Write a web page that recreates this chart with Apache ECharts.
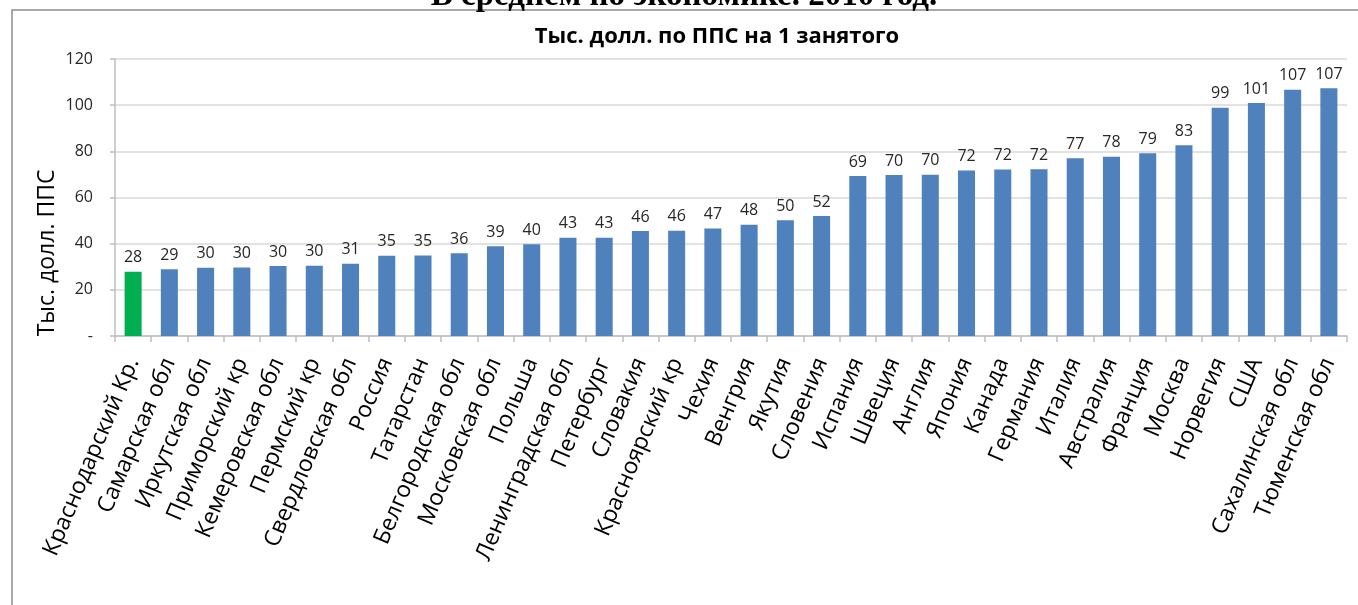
<!DOCTYPE html>
<html>
<head>
<meta charset="utf-8">
<script src="https://cdn.jsdelivr.net/npm/echarts@6/dist/echarts.min.js"></script>
<style>
html,body{margin:0;padding:0;background:#fff;}
#c{width:1358px;height:605px;}
</style>
</head>
<body>
<div id="c"></div>
<script>
var categories = ["Краснодарский Кр.","Самарская обл","Иркутская обл","Приморский кр","Кемеровская обл","Пермский кр","Свердловская обл","Россия","Татарстан","Белгородская обл","Московская обл","Польша","Ленинградская обл","Петербург","Словакия","Красноярский кр","Чехия","Венгрия","Якутия","Словения","Испания","Швеция","Англия","Япония","Канада","Германия","Италия","Австралия","Франция","Москва","Норвегия","США","Сахалинская обл","Тюменская обл"];
var values = [27.8,28.9,29.6,29.7,30.3,30.4,31.3,34.8,34.9,35.8,38.9,39.8,42.6,42.6,45.5,45.6,46.6,48.2,50.1,52.0,69.3,69.7,69.9,71.7,72.1,72.2,77.0,77.6,79.2,82.6,98.9,100.9,106.7,107.3];
var highlighted = ["Краснодарский Кр."];
var yTicks = [0,20,40,60,80,100,120];
var pageTitle = "В среднем по экономике. 2010 год.";
var chartTitle = "Тыс. долл. по ППС на 1 занятого";
var yAxisTitle = "Тыс. долл. ППС";

var FONT = "Open Sans";
var chart = echarts.init(document.getElementById('c'));
var data = values.map(function(v,i){
  return {value:v, itemStyle:{color: highlighted.indexOf(categories[i])>=0 ? '#00B050' : '#4F81BD'}};
});
chart.setOption({
  animation:false,
  backgroundColor:'#ffffff',
  textStyle:{fontFamily:FONT},
  graphic:[
    {type:'rect', shape:{x:12,y:10,width:1400,height:700}, style:{fill:'none',stroke:'#8c8c8c',lineWidth:1.5}, silent:true, z:-1},
    {type:'text', x:684, y:13, style:{text:pageTitle, font:'bold 33px "Liberation Serif"', fill:'#000', textAlign:'center', textVerticalAlign:'bottom'}},
    {type:'text', x:717, y:37, style:{text:chartTitle, font:'bold 22px "Open Sans"', fill:'#000', textAlign:'center', textVerticalAlign:'middle'}},
    {type:'text', x:47, y:253, rotation:Math.PI/2, style:{text:yAxisTitle, font:'23px "Open Sans"', fill:'#000', textAlign:'center', textVerticalAlign:'middle'}}
  ],
  grid:{left:115, right:11, top:59, bottom:269, containLabel:false},
  xAxis:{
    type:'category', data:categories,
    axisLine:{lineStyle:{color:'#BFBFBF',width:1.5}},
    axisTick:{show:true,length:6,lineStyle:{color:'#BFBFBF',width:1.5}},
    axisLabel:{rotate:67, interval:0, fontSize:23, color:'#000', margin:23, fontFamily:FONT}
  },
  yAxis:{
    type:'value', min:0, max:120, interval:20,
    axisLine:{show:true,lineStyle:{color:'#BFBFBF',width:1.5}},
    axisTick:{show:true,length:5,lineStyle:{color:'#BFBFBF',width:1.5}},
    splitLine:{lineStyle:{color:'#D9D9D9',width:1.5}},
    axisLabel:{fontSize:16, color:'#262626', margin:22, fontFamily:FONT,
      formatter:function(v){ return yTicks.indexOf(v)>=0 ? (v===0?'-':String(v)) : ''; }}
  },
  series:[{
    type:'bar', data:data, barWidth:'47%',
    label:{show:true, position:'top', distance:6, fontSize:16, color:'#262626', fontFamily:FONT,
      formatter:function(p){return Math.round(p.value);}}
  }]
});
</script>
</body>
</html>
